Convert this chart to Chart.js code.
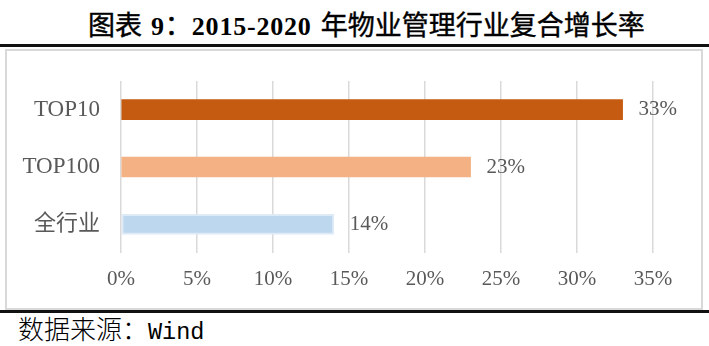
<!DOCTYPE html>
<html lang="zh-CN">
<head>
<meta charset="utf-8">
<title>2015-2020 年物业管理行业复合增长率</title>
<script src="https://cdn.jsdelivr.net/npm/chart.js@4/dist/chart.umd.min.js"></script>
<style>
  html, body { margin: 0; padding: 0; background: #fff; }
  body { width: 709px; height: 346px; position: relative; overflow: hidden; }
  #title {
    position: absolute; left: 88px; top: -1px; height: 50px;
    line-height: 50px; white-space: nowrap;
    font-family: "Noto Sans CJK SC", sans-serif; font-weight: 400; font-size: 27px; color: #000;
    -webkit-text-stroke: 0.4px #000;
  }
  #title .lat {
    font-family: "Liberation Serif", serif; font-weight: bold; font-size: 26px;
    letter-spacing: 0.8px; -webkit-text-stroke: 0;
  }
  .rule { position: absolute; left: 0; width: 709px; height: 3px; background: #111; }
  #frame {
    position: absolute; left: 5px; top: 49px; width: 698px; height: 261px;
    box-sizing: border-box; border: 2px solid #d9d9d9;
  }
  #chart { position: absolute; left: 0; top: 0; }
  #source {
    position: absolute; left: 18px; top: 310px; height: 36px; line-height: 36px;
    white-space: nowrap;
    font-family: "Noto Sans CJK SC", sans-serif; font-weight: 300; font-size: 26px; color: #000;
  }
  #source .lat { font-family: "Liberation Mono", monospace; font-weight: 400; font-size: 23.5px; }
</style>
</head>
<body>
<div id="title">图表<span class="lat" style="margin-left:9px">9</span>：<span class="lat">2015-2020</span><span style="margin-left:9px">年物业管理行业复合增长率</span></div>
<div class="rule" style="top:44px"></div>
<div id="frame"></div>
<div class="rule" style="top:310px"></div>
<div id="source">数据来源：<span class="lat">Wind</span></div>
<canvas id="chart" width="709" height="346"></canvas>
<script>
// Compound growth rate of property management, 2015-2020 (%)
const categories = ['TOP10', 'TOP100', '全行业'];
const growthRates = [33, 23, 14];
const barColors = ['#c55a11', '#f4b183', '#bdd7ee'];
const barEdges = ['#c55a11', '#f4b183', '#deebf7'];
const barEdgeWidths = [0, 0, 2];
const axisMin = 0;
const axisMax = 35;
const axisStep = 5;

const fontFamily = '"Liberation Serif", "Noto Sans CJK SC", serif';
const labelFont = { family: fontFamily, size: 21 };
const textColor = '#595959';

// Writes each bar's value just past its end
const valueLabels = {
  id: 'valueLabels',
  afterDatasetsDraw(chart) {
    const ctx = chart.ctx;
    ctx.save();
    ctx.font = `${labelFont.size}px ${labelFont.family}`;
    ctx.fillStyle = textColor;
    ctx.textAlign = 'left';
    ctx.textBaseline = 'middle';
    chart.getDatasetMeta(0).data.forEach((bar, i) => {
      ctx.fillText(growthRates[i] + '%', bar.x + 16, bar.y);
    });
    ctx.restore();
  }
};

new Chart(document.getElementById('chart'), {
  type: 'bar',
  data: {
    labels: categories,
    datasets: [{
      data: growthRates,
      backgroundColor: barColors,
      borderColor: barEdges,
      borderWidth: barEdgeWidths,
      borderSkipped: false,
      barThickness: 20
    }]
  },
  options: {
    indexAxis: 'y',
    responsive: false,
    devicePixelRatio: 1,
    animation: false,
    layout: { padding: { left: 0, top: 81, right: 56, bottom: 0 } },
    plugins: { legend: { display: false }, tooltip: { enabled: false } },
    scales: {
      x: {
        min: axisMin,
        max: axisMax,
        grid: { color: '#d9d9d9', lineWidth: 1.5, drawTicks: false },
        border: { display: false },
        ticks: {
          stepSize: axisStep,
          padding: 14,
          color: textColor,
          font: labelFont,
          maxRotation: 0,
          callback: v => v + '%'
        },
        afterFit(scale) { scale.height = 93; }
      },
      y: {
        grid: { display: false, drawTicks: false },
        border: { display: false },
        ticks: {
          padding: 21,
          color: textColor,
          // Latin category names a little larger than the Chinese one
          font: ctx => ({ family: fontFamily, size: /^[A-Z]/.test(categories[ctx.index] || '') ? 23 : 22 })
        },
        afterFit(scale) { scale.width = 121; }
      }
    }
  },
  plugins: [valueLabels]
});
</script>
</body>
</html>
